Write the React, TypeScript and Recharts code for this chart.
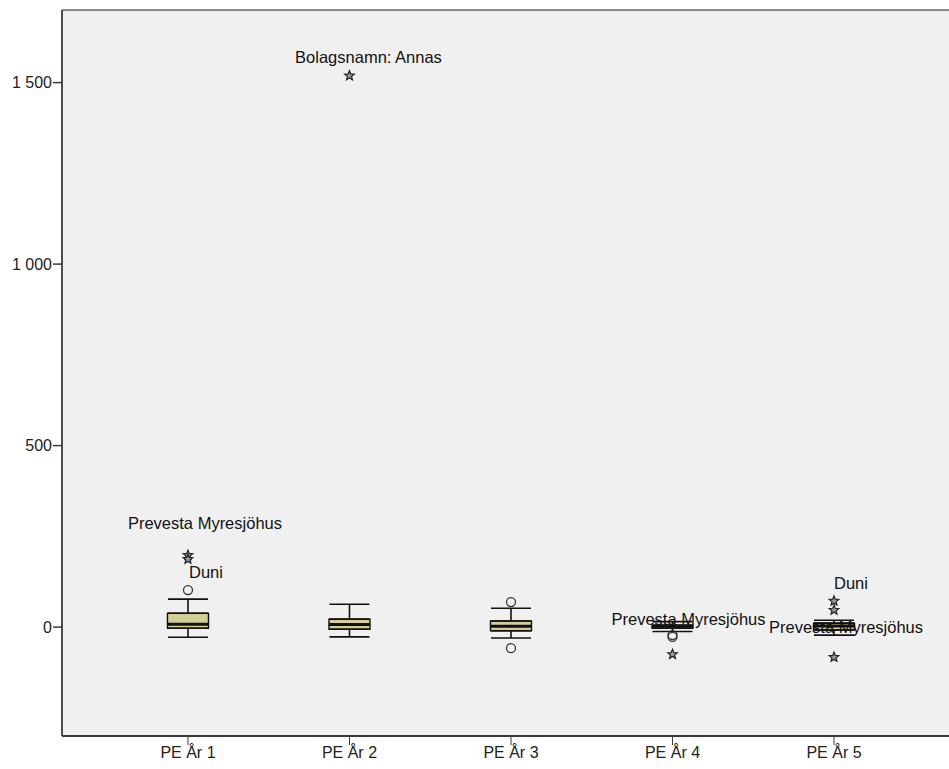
import React from "react";
import {
  ComposedChart,
  Scatter,
  ErrorBar,
  XAxis,
  YAxis,
  CartesianGrid,
  ReferenceArea,
  ReferenceLine,
} from "recharts";

const categories = ["PE År 1", "PE År 2", "PE År 3", "PE År 4", "PE År 5"];
const lowerWhisker = [-28, -27, -30, -12, -22];
const q1 = [-3, -6, -10, -3, -8];
const median = [8, 7, 2, 2, 3];
const q3 = [38, 22, 17, 5, 11];
const upperWhisker = [77, 63, 52, 15, 19];

// extreme values (*) and outliers (o)
const extremes = [
  { x: 1, y: 198 },
  { x: 1, y: 187 },
  { x: 2, y: 1519 },
  { x: 4, y: -75 },
  { x: 5, y: 72 },
  { x: 5, y: 47 },
  { x: 5, y: -83 },
];
const outliers = [
  { x: 1, y: 102 },
  { x: 3, y: 69 },
  { x: 3, y: -58 },
  { x: 4, y: -27 },
  { x: 4, y: -22 },
];
const pointLabels = [
  { x: 2, y: 1519, text: "Bolagsnamn: Annas" },
  { x: 1, y: 198, text: "Prevesta Myresjöhus" },
  { x: 1, y: 102, text: "Duni" },
  { x: 4, y: -27, text: "Prevesta Myresjöhus" },
  { x: 5, y: 72, text: "Duni" },
  { x: 5, y: -83, text: "Prevesta Myresjöhus" },
];
const yTicks = [0, 500, 1000, 1500];

// label nudges in px, same order as pointLabels
const labelNudge = [
  [19, -19],
  [17, -32],
  [18, -18],
  [16, -18],
  [17, -18],
  [12, -30],
];

const BOX_HALF = 0.127;
const FONT = 'Arial, "Liberation Sans", sans-serif';
const AXIS = "#3a3a3a";

const idx = categories.map((_, i) => i);
const upperData = idx.map((i) => ({ x: i + 1, y: q3[i], err: [0, upperWhisker[i] - q3[i]] }));
const lowerData = idx.map((i) => ({ x: i + 1, y: q1[i], err: [q1[i] - lowerWhisker[i], 0] }));
const medianData = idx.map((i) => ({ x: i + 1, y: median[i] }));

const fmt = (v: number) =>
  v >= 1000 ? `${Math.floor(v / 1000)} ${String(v % 1000).padStart(3, "0")}` : `${v}`;

const Nothing = () => <g />;

const MedianLine = (p: any) => (
  <line x1={p.cx - 20.5} x2={p.cx + 20.5} y1={p.cy} y2={p.cy} stroke="#111" strokeWidth={3} />
);

const Star = (p: any) => {
  const pts: string[] = [];
  for (let k = 0; k < 10; k++) {
    const r = k % 2 === 0 ? 5 : 2.2;
    const a = -Math.PI / 2 + (k * Math.PI) / 5;
    pts.push(`${p.cx + r * Math.cos(a)},${p.cy + r * Math.sin(a)}`);
  }
  return <polygon points={pts.join(" ")} fill="#9a9a9a" stroke="#222" strokeWidth={1.2} />;
};

const Ring = (p: any) => (
  <circle cx={p.cx} cy={p.cy} r={4.5} fill="none" stroke="#333" strokeWidth={1.3} />
);

const PointLabel = (p: any) => {
  let i = pointLabels.indexOf(p.payload);
  if (i < 0) i = p.index ?? 0;
  const [dx, dy] = labelNudge[i] || [18, -18];
  return (
    <text
      x={p.cx + dx}
      y={p.cy + dy}
      textAnchor="middle"
      dominantBaseline="central"
      fontSize={16.5}
      fontFamily={FONT}
      fill="#111"
    >
      {p.payload.text}
    </text>
  );
};

export default function App() {
  return (
    <div style={{ position: "absolute", left: 0, top: 0, width: 949, height: 769, background: "#fff" }}>
      <ComposedChart
        width={949}
        height={769}
        margin={{ top: 10, right: 0, bottom: 0, left: 0 }}
        style={{ fontFamily: FONT }}
      >
        <CartesianGrid horizontal={false} vertical={false} fill="#f0f0f0" />
        <XAxis
          type="number"
          dataKey="x"
          domain={[0.22, 5.712]}
          allowDataOverflow
          ticks={[1, 2, 3, 4, 5]}
          tickFormatter={(v) => categories[v - 1]}
          height={33}
          tickSize={9}
          tickMargin={2}
          stroke={AXIS}
          axisLine={{ stroke: AXIS, strokeWidth: 1.8 }}
          tickLine={{ stroke: AXIS }}
          tick={{ fill: "#222", fontSize: 16, fontFamily: FONT }}
        />
        <YAxis
          type="number"
          dataKey="y"
          domain={[-300, 1700]}
          allowDataOverflow
          ticks={yTicks}
          tickFormatter={fmt}
          width={62}
          tickSize={9}
          tickMargin={1}
          axisLine={{ stroke: AXIS, strokeWidth: 1.8 }}
          tickLine={{ stroke: AXIS, strokeWidth: 1.5 }}
          tick={{ fill: "#222", fontSize: 16, fontFamily: FONT }}
        />
        <ReferenceLine y={1700} stroke="#666" strokeWidth={1.5} />
        {idx.map((i) => (
          <ReferenceArea
            key={i}
            x1={i + 1 - BOX_HALF}
            x2={i + 1 + BOX_HALF}
            y1={q1[i]}
            y2={q3[i]}
            fill="#d3ce97"
            fillOpacity={1}
            stroke="#111"
            strokeWidth={1.4}
          />
        ))}
        <Scatter data={upperData} shape={Nothing} isAnimationActive={false}>
          <ErrorBar dataKey="err" direction="y" width={20} stroke="#111" strokeWidth={1.6} isAnimationActive={false} />
        </Scatter>
        <Scatter data={lowerData} shape={Nothing} isAnimationActive={false}>
          <ErrorBar dataKey="err" direction="y" width={20} stroke="#111" strokeWidth={1.6} isAnimationActive={false} />
        </Scatter>
        <Scatter data={medianData} shape={MedianLine} isAnimationActive={false} />
        <Scatter data={outliers} shape={Ring} isAnimationActive={false} />
        <Scatter data={extremes} shape={Star} isAnimationActive={false} />
        <Scatter data={pointLabels} shape={PointLabel} isAnimationActive={false} />
      </ComposedChart>
    </div>
  );
}
